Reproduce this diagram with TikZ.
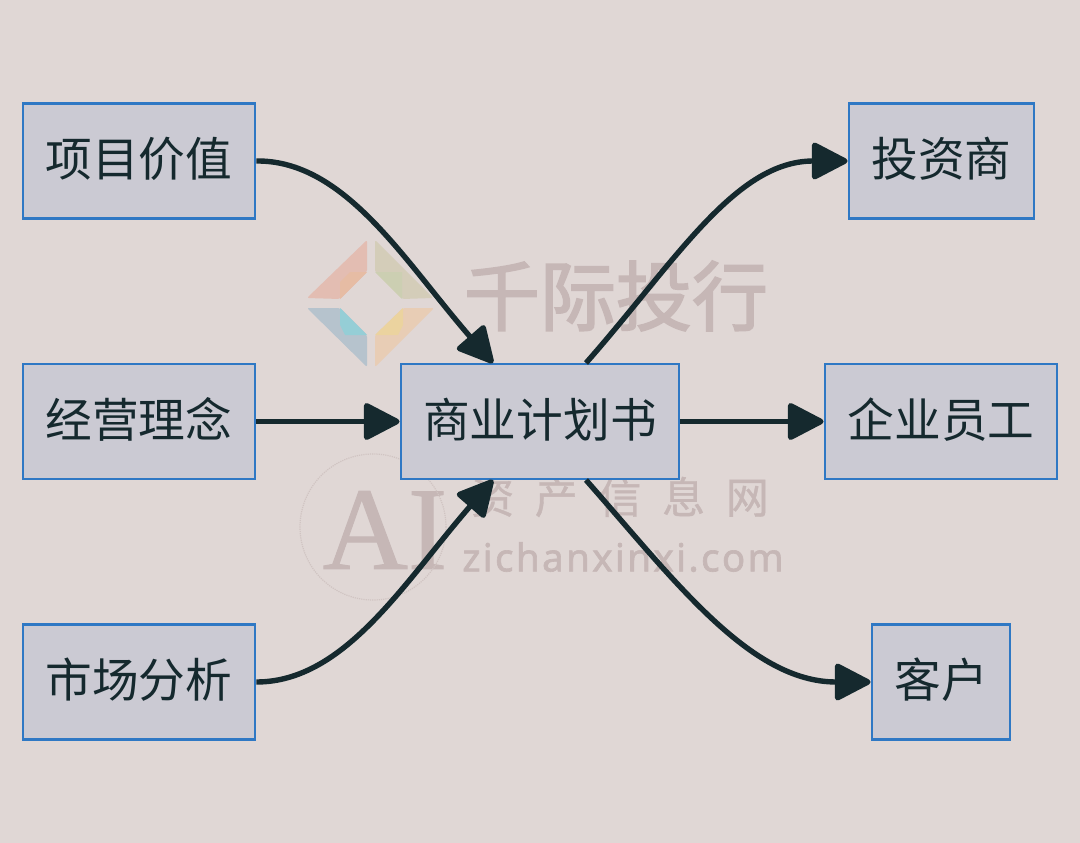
\documentclass[tikz,border=0pt]{standalone}
\usepackage{fontspec}
\usetikzlibrary{arrows.meta}
\setmainfont{Noto Sans CJK SC}
\newfontfamily\wmtitle[FakeBold=2.2]{Noto Sans CJK SC}
\newfontfamily\wmspaced[LetterSpace=48, FakeBold=0.8]{Noto Sans CJK SC}
\newfontfamily\wmlatin[LetterSpace=6, FakeBold=1.6]{Noto Sans}
\newfontfamily\wmserif[FakeBold=0.8]{Liberation Serif}
\definecolor{bgpage}{HTML}{E0D7D5}
\definecolor{boxfill}{HTML}{CBCAD3}
\definecolor{boxline}{HTML}{2F78C4}
\definecolor{inkdark}{HTML}{15292E}
\definecolor{wmink}{HTML}{C6B7B6}
\definecolor{logored}{HTML}{E3BDB2}
\definecolor{logoolive}{HTML}{D4CDB9}
\definecolor{logoblue}{HTML}{B6C3CD}
\definecolor{logopeach}{HTML}{E8CDB5}
\tikzset{
  box/.style={draw=boxline, fill=boxfill, line width=2.8pt, text=inkdark, inner sep=0pt,
    minimum height=115pt, text height=41pt, text depth=10pt, font=\fontsize{46.7}{46.7}\selectfont},
  flow/.style={draw=inkdark, line width=5.4pt, -{Triangle[length=39pt, width=39pt, round]}},
  wmark/.style={text=wmink, inner sep=0pt}
}
\begin{document}
\begin{tikzpicture}[x=1pt, y=-1pt]
      \path[fill=bgpage](0, 0) rectangle (1080, 843);
      \useasboundingbox (0, 0) rectangle (1080, 843);
      \path[fill=logored, rounded corners=2pt](367, 240)--(307, 298)--(340, 299)--(367, 272)--cycle;
      \path[fill=logoolive, rounded corners=2pt](375, 240)--(433, 298)--(402, 299)--(375, 272)--cycle;
      \path[fill=logoblue, rounded corners=2pt](307, 308)--(340, 308)--(367, 335)--(367, 367)--cycle;
      \path[fill=logopeach, rounded corners=2pt](434, 308)--(403, 308)--(375, 335)--(375, 367)--cycle;
      \path[fill=logored!80!orange!70!bgpage](340, 299)--(340, 282)--(350, 272)--(367, 272)--cycle;
      \path[fill=logoolive!96!green](375, 272)--(402, 272)--(402, 299)--cycle;
      \path[fill=logoblue!82!cyan](340, 308)--(367, 335)--(345, 335)--(340, 325)--cycle;
      \path[fill=logopeach!88!yellow](403, 308)--(375, 335)--(398, 335)--(403, 325)--cycle;
      \node[wmark, font=\wmtitle\fontsize{76}{76}\selectfont] (wmBank) at (616, 296) {千际投行};
      \node[wmark, font=\wmspaced\fontsize{43}{43}\selectfont] (wmInfo) at (620, 497) {资产信息网};
      \node[wmark, font=\wmlatin\fontsize{38.6}{38.6}\selectfont] (wmSite) at (623, 557) {zichanxinxi.com};
      \node[wmark, font=\wmserif\fontsize{118}{118}\selectfont] (wmLetters) at (385, 530) {AI};
      \node[draw=wmink!60!bgpage, densely dotted, line width=1.2pt, circle, minimum size=146pt, inner sep=0pt] (wmRing) at (373, 527) {};
      \node[box, minimum width=232pt] (value) at (139, 161) {项目价值};
      \node[box, minimum width=232pt] (idea) at (139, 421.5) {经营理念};
      \node[box, minimum width=232pt] (market) at (139, 682) {市场分析};
      \node[box, minimum width=278pt] (plan) at (540, 421.5) {商业计划书};
      \node[box, minimum width=185pt] (investor) at (941.5, 161) {投资商};
      \node[box, minimum width=232pt] (staff) at (941, 421.5) {企业员工};
      \node[box, minimum width=138pt] (client) at (941, 682) {客户};
      \coordinate (planInTop) at (493, 363);
      \coordinate (planInBot) at (493, 480);
      \coordinate (planOutTop) at (586, 363);
      \coordinate (planOutBot) at (586, 480);
      \draw[flow](value.east) .. controls (345, 160) and (405, 262) .. (planInTop);
      \draw[flow](idea.east)--(plan.west);
      \draw[flow](market.east) .. controls (345, 682) and (405, 581) .. (planInBot);
      \draw[flow](planOutTop) .. controls (675, 262) and (735, 161) .. (investor.west);
      \draw[flow](plan.east)--(staff.west);
      \draw[flow](planOutBot) .. controls (675, 581) and (750, 682) .. (client.west);
    \end{tikzpicture}
\end{document}
